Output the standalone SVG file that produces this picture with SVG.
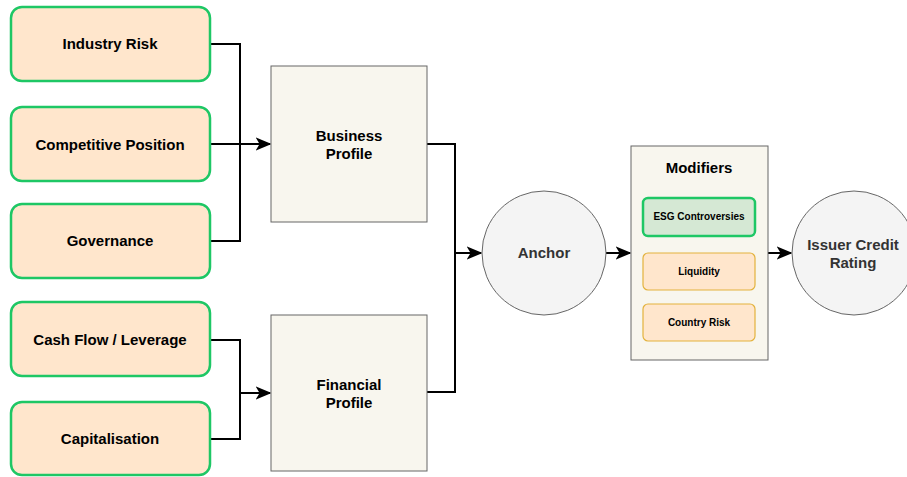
<svg xmlns="http://www.w3.org/2000/svg" width="907" height="477" viewBox="0 0 907 477">
  <style>
    text { font-family: "Liberation Sans", Arial, Helvetica, sans-serif; font-weight: bold; text-anchor: middle; dominant-baseline: central; fill: #000; }
    .factor { fill: #ffe6cc; stroke: #1ec765; stroke-width: 2.5; }
    .profile { fill: #f8f6ee; stroke: #666; stroke-width: 1; }
    .circle { fill: #f4f4f4; stroke: #666; stroke-width: 1; }
    .esg { fill: #d5e8d4; stroke: #1ec765; stroke-width: 2.5; }
    .mod { fill: #ffe6cc; stroke: #e3b23c; stroke-width: 1.2; }
    .lbl { font-size: 15px; }
    .small { font-size: 10px; }
    .grey { fill: #333; }
    .wire { fill: none; stroke: #000; stroke-width: 2; }
  </style>
  <defs>
    <marker id="arrow" viewBox="0 0 10 10" refX="9" refY="5" markerWidth="8" markerHeight="8" orient="auto" markerUnits="strokeWidth">
      <path d="M0,0.8 L10,5 L0,9.2 L2.5,5 Z" fill="#000"/>
    </marker>
  </defs>

  <!-- connectors -->
  <g id="connectors">
    <polyline class="wire" points="210,44 240,44 240,241 210,241"/>
    <line class="wire" x1="210" y1="144" x2="270" y2="144" marker-end="url(#arrow)"/>
    <polyline class="wire" points="210,340 240,340 240,439 210,439"/>
    <line class="wire" x1="240" y1="393" x2="270" y2="393" marker-end="url(#arrow)"/>
    <polyline class="wire" points="427,144 455,144 455,392 427,392"/>
    <line class="wire" x1="455" y1="253" x2="481" y2="253" marker-end="url(#arrow)"/>
    <line class="wire" x1="606" y1="253" x2="630" y2="253" marker-end="url(#arrow)"/>
    <line class="wire" x1="768" y1="253" x2="791" y2="253" marker-end="url(#arrow)"/>
  </g>

  <!-- input factors -->
  <g id="industry-risk">
    <rect class="factor" x="11" y="7" width="199" height="74" rx="11"/>
    <text class="lbl" x="110" y="43.5">Industry Risk</text>
  </g>
  <g id="competitive-position">
    <rect class="factor" x="11" y="107" width="199" height="74" rx="11"/>
    <text class="lbl" x="110" y="144">Competitive Position</text>
  </g>
  <g id="governance">
    <rect class="factor" x="11" y="204" width="199" height="74" rx="11"/>
    <text class="lbl" x="110" y="240.5">Governance</text>
  </g>
  <g id="cash-flow-leverage">
    <rect class="factor" x="11" y="302" width="199" height="74" rx="11"/>
    <text class="lbl" x="110" y="339.5">Cash Flow / Leverage</text>
  </g>
  <g id="capitalisation">
    <rect class="factor" x="11" y="402" width="199" height="73" rx="11"/>
    <text class="lbl" x="110" y="438.5">Capitalisation</text>
  </g>

  <!-- profiles -->
  <g id="business-profile">
    <rect class="profile" x="271" y="66" width="156" height="156"/>
    <text class="lbl" x="349" y="135.5">Business</text>
    <text class="lbl" x="349" y="153.5">Profile</text>
  </g>
  <g id="financial-profile">
    <rect class="profile" x="271" y="315" width="156" height="156"/>
    <text class="lbl" x="349" y="384">Financial</text>
    <text class="lbl" x="349" y="402">Profile</text>
  </g>

  <!-- anchor -->
  <g id="anchor">
    <circle class="circle" cx="544" cy="253" r="62"/>
    <text class="lbl grey" x="544" y="252.5">Anchor</text>
  </g>

  <!-- modifiers -->
  <g id="modifiers">
    <rect class="profile" x="631" y="146" width="137" height="214"/>
    <text class="lbl" x="699" y="167.5">Modifiers</text>
  </g>
  <g id="esg-controversies">
    <rect class="esg" x="643" y="198" width="112" height="38" rx="5"/>
    <text class="small" x="699" y="216.5">ESG Controversies</text>
  </g>
  <g id="liquidity">
    <rect class="mod" x="643" y="253" width="112" height="37" rx="5"/>
    <text class="small" x="699" y="271">Liquidity</text>
  </g>
  <g id="country-risk">
    <rect class="mod" x="643" y="304" width="112" height="37" rx="5"/>
    <text class="small" x="699" y="322">Country Risk</text>
  </g>

  <!-- result -->
  <g id="issuer-credit-rating">
    <circle class="circle" cx="854" cy="253" r="62"/>
    <text class="lbl grey" x="853" y="244.5">Issuer Credit</text>
    <text class="lbl grey" x="853" y="262">Rating</text>
  </g>
</svg>
